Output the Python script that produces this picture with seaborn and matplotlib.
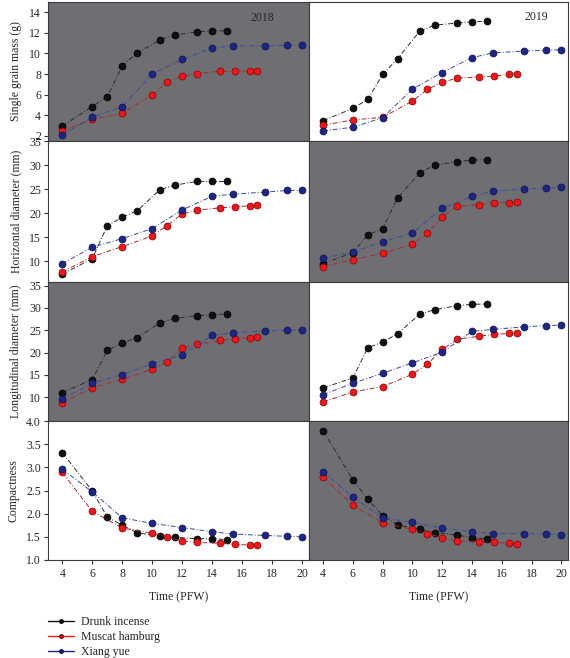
import numpy as np
import pandas as pd
import seaborn as sns
import matplotlib.pyplot as plt

sns.set_style("white")
plt.rcParams['font.family'] = ['Liberation Serif', 'DejaVu Serif']

# sampling times (PFW) for each cultivar
x_drunk = [4, 6, 7, 8, 9, 10.5, 11.5, 13, 14, 15]
x_muscat = [4, 6, 8, 10, 11, 12, 13, 14.5, 15.5, 16.5, 17]
x_xiang = [4, 6, 8, 10, 12, 14, 15.4, 17.5, 19, 20]

# single grain mass (g)
sgm_2018_drunk = [2.95, 4.85, 5.8, 8.8, 10.05, 11.3, 11.8, 12.1, 12.2, 12.2]
sgm_2018_muscat = [2.5, 3.6, 4.2, 6.0, 7.2, 7.8, 8.05, 8.28, 8.28, 8.3, 8.3]
sgm_2018_xiang = [2.1, 3.8, 4.83, 8.0, 9.43, 10.53, 10.75, 10.75, 10.8, 10.8]
sgm_2019_drunk = [3.48, 4.67, 5.54, 7.96, 9.5, 12.18, 12.76, 12.95, 13.08, 13.14]
sgm_2019_muscat = [3.03, 3.55, 3.8, 5.38, 6.51, 7.22, 7.6, 7.73, 7.8, 7.99, 8.05]
sgm_2019_xiang = [2.48, 2.84, 3.77, 6.54, 8.15, 9.6, 10.05, 10.24, 10.31, 10.37]

# horizontal diameter (mm)
hd_2018_drunk = [7.3, 10.56, 17.36, 19.17, 20.49, 24.86, 25.83, 26.6, 26.6, 26.6]
hd_2018_muscat = [7.78, 10.97, 13.06, 15.28, 17.43, 19.86, 20.63, 21.11, 21.32, 21.53, 21.67]
hd_2018_xiang = [9.51, 12.92, 14.72, 16.81, 20.69, 23.54, 23.96, 24.38, 24.72, 24.79]
hd_2019_drunk = [9.51, 11.81, 15.49, 16.81, 23.19, 28.4, 30.0, 30.69, 31.04, 31.11]
hd_2019_muscat = [8.89, 10.35, 11.67, 13.54, 15.83, 19.24, 21.46, 21.74, 22.08, 22.22, 22.36]
hd_2019_xiang = [10.63, 11.94, 14.1, 15.9, 21.04, 23.47, 24.58, 25.0, 25.21, 25.35]

# longitudinal diameter (mm)
ld_2018_drunk = [11.05, 13.97, 20.48, 22.2, 23.32, 26.62, 27.66, 28.26, 28.41, 28.71]
ld_2018_muscat = [8.73, 12.17, 14.04, 16.29, 17.93, 21.0, 21.83, 22.72, 23.1, 23.25, 23.55]
ld_2018_xiang = [9.63, 13.14, 15.09, 17.49, 19.51, 23.85, 24.45, 24.82, 24.97, 25.04]
ld_2019_drunk = [12.1, 14.34, 21.08, 22.35, 24.22, 28.64, 29.61, 30.51, 30.81, 30.88]
ld_2019_muscat = [8.95, 11.2, 12.4, 15.16, 17.41, 20.7, 22.95, 23.7, 24.07, 24.3, 24.37]
ld_2019_xiang = [10.6, 13.14, 15.39, 17.71, 20.1, 24.75, 25.19, 25.79, 26.02, 26.17]

# compactness
cp_2018_drunk = [3.32, 2.49, 1.93, 1.75, 1.59, 1.51, 1.49, 1.46, 1.46, 1.44]
cp_2018_muscat = [2.89, 2.05, 1.69, 1.58, 1.5, 1.41, 1.38, 1.36, 1.34, 1.32, 1.32]
cp_2018_xiang = [2.96, 2.47, 1.91, 1.79, 1.7, 1.61, 1.56, 1.53, 1.51, 1.5]
cp_2019_drunk = [3.79, 2.73, 2.31, 1.96, 1.76, 1.66, 1.59, 1.54, 1.48, 1.46]
cp_2019_muscat = [2.79, 2.18, 1.8, 1.66, 1.57, 1.48, 1.41, 1.39, 1.38, 1.36, 1.34]
cp_2019_xiang = [2.9, 2.36, 1.91, 1.81, 1.69, 1.61, 1.57, 1.57, 1.56, 1.55]

cultivars = ['Drunk incense', 'Muscat hamburg', 'Xiang yue']
colors = {'Drunk incense': '#111111', 'Muscat hamburg': '#e8191c', 'Xiang yue': '#1e2683'}
line_colors = {'Drunk incense': '#2b2b2b', 'Muscat hamburg': '#a52a2a', 'Xiang yue': '#3a4a9a'}
edge_colors = {'Drunk incense': '#000000', 'Muscat hamburg': '#8a0000', 'Xiang yue': '#0b1150'}

panels = [
    (0, 0, 'Single grain mass (g)', [sgm_2018_drunk, sgm_2018_muscat, sgm_2018_xiang]),
    (0, 1, None, [sgm_2019_drunk, sgm_2019_muscat, sgm_2019_xiang]),
    (1, 0, 'Horizontal diameter (mm)', [hd_2018_drunk, hd_2018_muscat, hd_2018_xiang]),
    (1, 1, None, [hd_2019_drunk, hd_2019_muscat, hd_2019_xiang]),
    (2, 0, 'Longitudinal diameter (mm)', [ld_2018_drunk, ld_2018_muscat, ld_2018_xiang]),
    (2, 1, None, [ld_2019_drunk, ld_2019_muscat, ld_2019_xiang]),
    (3, 0, 'Compactness', [cp_2018_drunk, cp_2018_muscat, cp_2018_xiang]),
    (3, 1, None, [cp_2019_drunk, cp_2019_muscat, cp_2019_xiang]),
]
ylims = [(1.5, 15), (5.7, 35), (4.7, 35.8), (1.0, 4.0)]
yticks = [np.arange(2, 15, 2), np.arange(10, 36, 5), np.arange(10, 36, 5), np.arange(1.0, 4.01, 0.5)]
gray = '#6f6e73'

W, H = 570, 658
fig = plt.figure(figsize=(W / 100, H / 100), dpi=100)

col_x = [48, 309]
col_w = [261, 259]
row_top = [2, 141, 282, 421]
row_h = [139, 141, 139, 139]

axes = {}
for r in range(4):
    for c in range(2):
        ax = fig.add_axes([col_x[c] / W, 1 - (row_top[r] + row_h[r]) / H, col_w[c] / W, row_h[r] / H])
        axes[(r, c)] = ax

for r, c, label, series in panels:
    ax = axes[(r, c)]
    shaded = (r + c) % 2 == 0
    ax.set_facecolor(gray if shaded else 'white')
    for name, xs, ys in zip(cultivars, [x_drunk, x_muscat, x_xiang], series):
        df = pd.DataFrame({'Time': xs, 'Value': ys})
        sns.lineplot(data=df, x='Time', y='Value', ax=ax, color=line_colors[name],
                     linewidth=0.7, linestyle=(0, (5, 2, 1, 2)), errorbar=None,
                     marker='o', markersize=5, markerfacecolor=colors[name],
                     markeredgecolor=edge_colors[name], markeredgewidth=0.5,
                     label=name, legend=False)
    ax.set_xlim(3.05, 20.45)
    ax.set_ylim(*ylims[r])
    ax.set_yticks(yticks[r])
    if r == 3:
        ax.set_yticklabels(['%.1f' % t for t in yticks[r]])
    ax.set_xticks(np.arange(4, 21, 2))
    for s in ax.spines.values():
        s.set_color('#3c3c3c')
        s.set_linewidth(0.8)
    ax.set_xlabel('')
    ax.set_ylabel('')
    if c == 0:
        ax.set_ylabel(label, fontsize=8.5, labelpad=5)
        ax.tick_params(axis='y', direction='out', length=3, width=0.8, labelsize=8.5,
                       left=True, pad=2, color='#333333')
    else:
        ax.tick_params(axis='y', left=False, labelleft=False)
    if r == 3:
        ax.tick_params(axis='x', direction='out', length=3, width=0.8, labelsize=8.5,
                       bottom=True, pad=3, color='#333333')
        ax.set_xlabel('Time (PFW)', fontsize=8.5, labelpad=8)
    else:
        ax.tick_params(axis='x', bottom=False, labelbottom=False)

axes[(0, 0)].text(0.82, 0.885, '2018', transform=axes[(0, 0)].transAxes,
                  ha='center', va='center', fontsize=8.5)
axes[(0, 1)].text(0.877, 0.89, '2019', transform=axes[(0, 1)].transAxes,
                  ha='center', va='center', fontsize=8.5)

# legend at bottom left
handles = [plt.Line2D([], [], color=colors[n], linewidth=1.0, marker='o', markersize=2.5,
                      markerfacecolor=colors[n], markeredgecolor=edge_colors[n])
           for n in cultivars]
fig.legend(handles, cultivars, loc='upper left', bbox_to_anchor=(40 / W, 1 - 608 / H),
           frameon=False, fontsize=8.5, handlelength=2.2, handletextpad=0.6,
           labelspacing=0.25, borderpad=0.2)

fig.savefig('out.png', dpi=100)
